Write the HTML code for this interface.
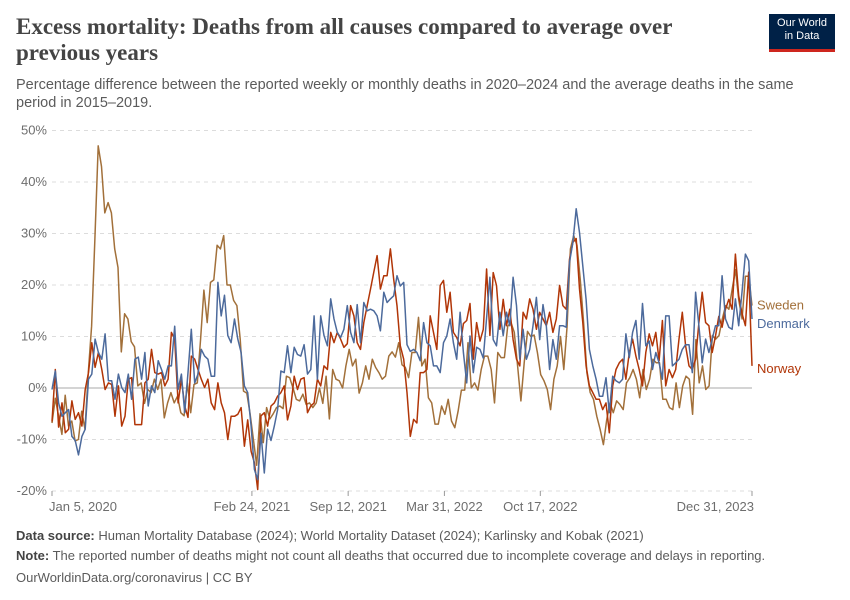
<!DOCTYPE html>
<html><head><meta charset="utf-8">
<style>
body{margin:0;background:#fff;font-family:"Liberation Sans",sans-serif;}
#wrap{position:relative;width:850px;height:600px;overflow:hidden;}
.title{position:absolute;left:16px;top:14px;width:700px;font-family:"Liberation Serif",serif;font-weight:bold;font-size:23px;line-height:26px;color:#444;}
.sub{position:absolute;left:16px;top:76px;width:812px;font-size:14.5px;line-height:18px;color:#5b5b5b;}
.logo{position:absolute;left:769px;top:14px;width:66px;height:38px;background:#002147;color:#fff;font-size:11px;line-height:13px;text-align:center;padding-top:3px;box-sizing:border-box;border-bottom:3px solid #ce261e;}
.foot{position:absolute;left:16px;font-size:13px;color:#5b5b5b;}
.foot b{color:#444;}
</style></head><body>
<div id="wrap">
<div class="title">Excess mortality: Deaths from all causes compared to average over previous years</div>
<div class="sub">Percentage difference between the reported weekly or monthly deaths in 2020–2024 and the average deaths in the same period in 2015–2019.</div>
<div class="logo">Our World<br>in Data</div>
<svg id="chart" width="850" height="600" style="position:absolute;left:0;top:0"></svg>
<div class="foot" style="top:528px"><b>Data source:</b> Human Mortality Database (2024); World Mortality Dataset (2024); Karlinsky and Kobak (2021)</div>
<div class="foot" style="top:548px"><b>Note:</b> The reported number of deaths might not count all deaths that occurred due to incomplete coverage and delays in reporting.</div>
<div class="foot" style="top:570px">OurWorldinData.org/coronavirus | CC BY</div>
</div>
<script>
const yTicks=[-20,-10,0,10,20,30,40,50];
const xTickLabels=["Jan 5, 2020","Feb 24, 2021","Sep 12, 2021","Mar 31, 2022","Oct 17, 2022","Dec 31, 2023"];
const xTickWeeks=[0,59.4,88,116.6,145.1,208];
const seriesNames=["Sweden","Denmark","Norway"];
const sweden=[-6.8,-2,-5.5,-9,-1.4,-7.4,-6.4,-10.3,-10,-4.5,-8,3,12,29,47,43,34,36,34,27,23.4,7,14.4,13.4,9,8,0.4,1,-3,-0.3,-0.9,1.7,-0.3,1.7,-5.8,-2.9,-0.9,-2.9,-1.6,-4.8,-5.4,1,-4.8,0.7,1,9.5,19,12.7,20.5,21,27.7,27,29.6,20,20,17,
16,9.5,-0.6,-1,-5,-10,-15,-5,-10.6,-3.8,-6,-5,-3.8,-3.5,-4,2.3,2,0,-2.2,-2.5,-1.2,-3.2,-2.9,-3.8,-2.9,0,-3,2.3,-6,3.6,1.7,1.4,0,4.3,7.5,4.3,5.6,-1,1,4.3,1.7,5.6,4,3,1.7,2.3,6.2,7,6,8.8,4.5,4,2,6.9,
6.9,13.7,4.3,5.6,-1.9,-2.9,-7,-7,-3.5,-5.1,-2.2,-6.4,-7.7,-4.5,-0.4,-0.4,8.8,0,1,-0.4,3.6,6.2,6.2,3.6,-2.9,6.9,5.9,5.9,12,12.7,10.8,4.3,-2.5,4.9,11,10,10.3,6.9,2.6,1.4,-0.3,-4.2,1.7,4.3,10,3.6,12,27,29.6,27.7,21,12.7,3,-0.9,-2.2,
-5.5,-8,-11,-6.2,-2.9,-4.8,-2.5,-3.2,-4.2,1,2,3.6,1.7,-1.9,3.6,-0.3,1.7,5.6,4.9,4.9,-2.2,-2.2,-3.8,-4.2,1,-3.8,0.4,2.3,1.7,-5.1,9.4,1,4.3,-0.3,0.4,10.2,9.5,10.2,13.4,16,15.3,19.2,23,17,13.4,21.7,21.7,16];
const denmark=[-0.3,3.3,-2.9,-5.5,-4.8,-4.2,-9.4,-10.2,-13,-9.4,-8,1.7,2.7,9.5,6.9,5.6,10.5,1.4,1.4,-2.2,2.7,0.1,-0.9,2.7,-2.2,5.6,6,1.7,6.9,-3.5,0.4,-0.9,5.3,3.6,1.7,4.3,4.3,12,-0.3,2.7,-4.8,3,11.4,1,2.7,7.5,6.2,5.6,2.3,2.3,20.5,14,18,10.2,8.8,13.4,
9.5,6.9,0.4,-0.9,-7.4,-15.8,-17.8,-8.8,-16.5,-8,-10.2,-7.4,-4.2,3.3,3,8.2,3,7.9,6.5,6.2,8.4,2.7,3.6,14,1.7,14,10.2,8.2,17.3,13.4,10.8,9.8,11.4,16,10.8,8.8,16.2,8.8,16.6,15,15.3,15,14,11.1,18.6,16.6,17.3,17.9,21.8,19.8,20.5,8.4,7.1,7.5,
6.9,5.3,12.7,8.8,8.2,4.3,4.3,3,8.8,10.1,13.4,8.8,5.6,14.7,6.9,1,10.1,3,7.9,7.5,5.8,13.6,21.5,9.4,8.2,14.7,10.2,14.7,12.1,21.5,16,5.6,11.4,5.6,7.5,12.1,17.6,9.4,16.2,12.1,3.6,9.4,5.6,12.1,12.1,11.8,24.4,28.3,34.8,30.2,23.7,17.2,7.5,4.3,1.7,
-1.6,-1.6,2,-4.8,2.3,1.4,1,1.7,10.5,5.9,10.8,13.1,5.6,16.4,8.2,9.1,3.6,6.9,4.9,1.7,14,14,4.3,4.9,5.6,7.5,8.4,8.4,3,18.6,12.1,4.9,9.5,6.9,9.5,12.1,12.1,21.8,13.4,11.8,11.4,17.3,12.1,18.6,26,24.7,13.4];
const norway=[-6.5,3.6,-7.6,-2.9,-8.7,-8,-2.5,-6.1,-4.8,-7.4,-0.3,3,8.8,4,6.9,3.6,-0.3,1,0.7,-5.5,0.4,-7.4,-5.5,1.7,2,-7.1,-7.1,-7.1,1,1.7,7.5,3,2.7,3,0.4,1.7,10.8,9.5,-2.9,1.7,-3.5,-5.7,6.2,5.6,3.6,1.7,0.1,1.7,-2.9,-4.2,1,-2.9,-4.8,-10,-5.5,-5.5,
-5.1,-3.8,-11.3,-6.2,-12.3,-14.5,-19.7,-5.4,-4.8,-7.4,-3.5,-2.9,-1.6,-0.9,0.4,-6.2,-3.5,2.3,-0.3,1.7,2,-4.8,-3.5,-2.9,1.7,0.4,4.3,3.6,10.8,8.8,10.8,9.5,7.9,8.6,16,14,8.8,7.5,12.7,16,19.2,22.5,25.7,19.2,21.8,21.8,27,21.1,16,8.2,5.6,-0.9,-9.4,-6.1,
-6.8,3,3,3.6,14,10.8,7.5,19.9,20.9,14.7,18.6,10.8,9.8,8.2,12.5,13.1,16.4,5.6,12.7,9.1,11.4,23.1,10.2,22.4,19.9,11.4,17.2,12.1,15.3,9.4,5.6,4.3,14.7,13.4,17.3,15.3,11.4,14.7,13.4,12.1,14.7,10.8,13.4,19.9,16,15.3,25,28.3,29,19.2,12.7,4.3,0.4,-0.9,-2.2,
-2.2,-4.2,-2.9,-8.7,0.4,3.6,4.9,5.6,1.7,6.9,9.5,6.2,3.6,0.4,6.9,10.5,8.2,10.8,5.3,13.1,0.4,3.6,2,3.6,9.5,14.7,8.2,4.3,3.6,5.6,12.7,18.6,12.7,12.1,6.9,10.1,13.9,11.8,15.3,17.2,15.3,26,17.9,14.5,12.1,22.5,4.3];

const NS="http://www.w3.org/2000/svg";
const svg=document.getElementById('chart');
const X0=52,X1=752,Y0=388,PX=5.15;
const WEEKS=208;
const xw=w=>X0+(X1-X0)*w/WEEKS;
const y=v=>Y0-v*PX;
function mk(t,a){const e=document.createElementNS(NS,t);for(const k in a)e.setAttribute(k,a[k]);svg.appendChild(e);return e;}
yTicks.forEach(t=>{
  const l=mk('line',{x1:X0,x2:X1,y1:y(t),y2:y(t),stroke:t===0?'#a8a8a8':'#dcdcdc','stroke-width':1,'stroke-dasharray':t===0?'none':'4,4'});
  
  
  const tx=mk('text',{x:47,y:y(t)+4,'text-anchor':'end','font-size':13,fill:'#6e6e6e','font-family':'Liberation Sans, sans-serif'});
  tx.textContent=t+'%';
  
  
});
xTickLabels.forEach((lab,i)=>{
  const x=xw(xTickWeeks[i]);
  const tk=mk('line',{x1:x,x2:x,y1:491,y2:496,stroke:'#999'});
  
  
  const anchor=i===0?'start':(i===xTickLabels.length-1?'end':'middle');
  const tx=mk('text',{x:i===0?x-3:(i===xTickLabels.length-1?x+2:x),y:511,'text-anchor':anchor,'font-size':13,fill:'#6e6e6e','font-family':'Liberation Sans, sans-serif'});
  tx.textContent=lab;
  
  
});
const colors={Sweden:'#a2703a',Denmark:'#4c6a9c',Norway:'#b13507'};
const all={Sweden:sweden,Denmark:denmark,Norway:norway};
["Sweden","Norway","Denmark"].forEach(n=>{
  const d=all[n];
  const pts=d.map((v,i)=>xw(i*WEEKS/(d.length-1)).toFixed(1)+','+y(v).toFixed(1)).join(' ');
  const pl=mk('polyline',{points:pts,fill:'none',stroke:colors[n],'stroke-width':1.5,'stroke-linejoin':'round'});
  
  
});
const labY={Sweden:y(sweden[sweden.length-1])+4,Denmark:y(denmark[denmark.length-1])+9,Norway:y(norway[norway.length-1])+7};
seriesNames.forEach(n=>{
  const tx=mk('text',{x:757,y:labY[n],'font-size':13,fill:colors[n],'font-family':'Liberation Sans, sans-serif'});
  tx.textContent=n;
  
  
});
</script>
</body></html>
